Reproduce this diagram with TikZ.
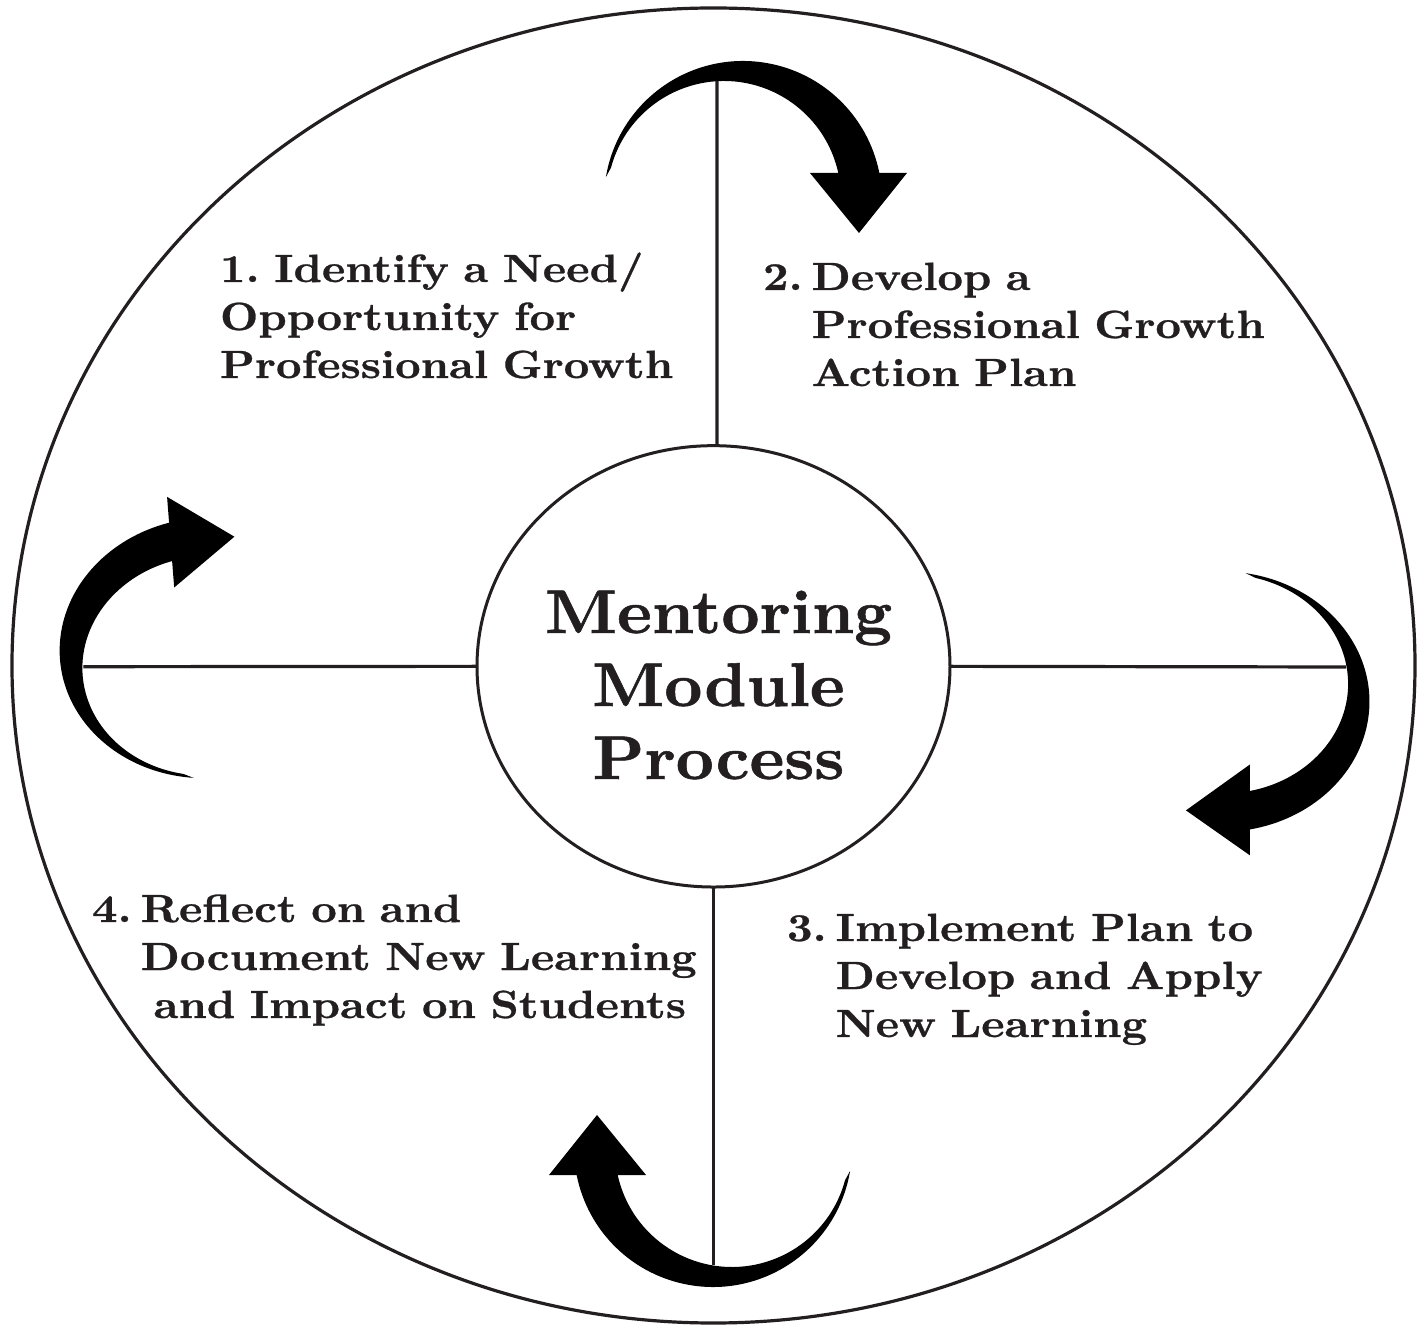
\documentclass[tikz,border=0pt]{standalone}
\usepackage{fontspec}
\usetikzlibrary{shapes.geometric}
\newfontfamily\stepfont[FakeStretch=1.13, FakeBold=0.7, WordSpace=0.85]{lmroman10-bold.otf}
\newfontfamily\titlefont[FakeStretch=1.07, FakeBold=0.9]{lmroman10-bold.otf}
\definecolor{ink}{RGB}{35,31,32}
\tikzset{
  steptext/.style={text=ink, inner sep=0pt, outer sep=0pt, anchor=base west,
    font=\stepfont\fontsize{29.5}{36}\selectfont},
  titletext/.style={text=ink, inner sep=0pt, outer sep=0pt, anchor=base,
    font=\titlefont\fontsize{46.3}{54.75}\selectfont},
  hub/.style={ellipse, draw=ink, line width=2.25pt, inner sep=0pt, outer sep=0pt,
    minimum width=354.75pt, minimum height=331pt},
  rim/.style={draw=ink, line width=2.4pt},
  spoke/.style={draw=ink, line width=2.4pt},
  crescent/.style={fill=black, draw=none}
}
\def\mmcrescent{%
  \path[crescent] ([shift={(29.5,465.5)}]170.5:139)
    arc[start angle=170.5, end angle=11.2, radius=139]
    -- (193.5,492.5) -- (145.5,432.5) -- (96.5,492.5)
    -- ([shift={(10.5,467.5)}]12.34:117)
    arc[start angle=12.34, end angle=165, radius=117] -- cycle;}
\begin{document}
\begin{tikzpicture}[x=0.75pt, y=0.75pt]
\useasboundingbox (-713.5,-660.5) rectangle (705.5,665.5);
\fill[white] (-713.5,-660.5) rectangle (705.5,665.5);
% outer rim
\path[rim] (0,0) ellipse[x radius=701.5, y radius=657.5];
% hub
\node[hub] (hub) at (0,-0.85) {};
\node[titletext] (title) at (5,32.5)
  {\begin{tabular}[t]{@{}c@{}}Mentoring\\Module\\Process\end{tabular}};
% arrows
\begin{scope}\mmcrescent\end{scope}
\begin{scope}[shift={(11,-8.5)}, xscale=1.06692, rotate=-90, xscale=0.93729]\mmcrescent\end{scope}
\begin{scope}[shift={(29,-17)}, rotate=180]\mmcrescent\end{scope}
\begin{scope}[rotate around={4.5:(-505.7,17.6)}, shift={(-9,-10)}, xscale=1.06692, rotate=90, xscale=0.93729]\mmcrescent\end{scope}
% spokes
\coordinate (topend) at (3.5,584.3);
\coordinate (rightend) at (632.5,-1.5);
\coordinate (bottomend) at (0,-599);
\coordinate (leftend) at (-630,-1.2);
\path[spoke] ([xshift=2.6pt]hub.north) -- (topend);
\path[spoke] (hub.east) -- (rightend);
\path[spoke] (hub.south) -- (bottomend);
\path[spoke] (hub.west) -- (leftend);
% step labels
\node[steptext] (s1) at (-493.5,383.5)
  {\begin{tabular}[t]{@{}l@{}}1.\ Identify a Need/\\Opportunity for\\Professional Growth\end{tabular}};
\node[steptext] (s2) at (49.5,375.5)
  {\begin{tabular}[t]{@{}p{36.5pt}@{}l@{}}2.&Develop a\\&Professional Growth\\&Action Plan\end{tabular}};
\node[steptext] (s3) at (73.5,-275.5)
  {\begin{tabular}[t]{@{}p{36.5pt}@{}l@{}}3.&Implement Plan to\\&Develop and Apply\\&New Learning\end{tabular}};
\node[steptext] (s4) at (-621.5,-256.5)
  {\begin{tabular}[t]{@{}p{36.5pt}@{}l@{}}4.&Reflect on and\\&Document New Learning\\&\hspace*{9.75pt}and Impact on Students\end{tabular}};
\end{tikzpicture}
\end{document}
